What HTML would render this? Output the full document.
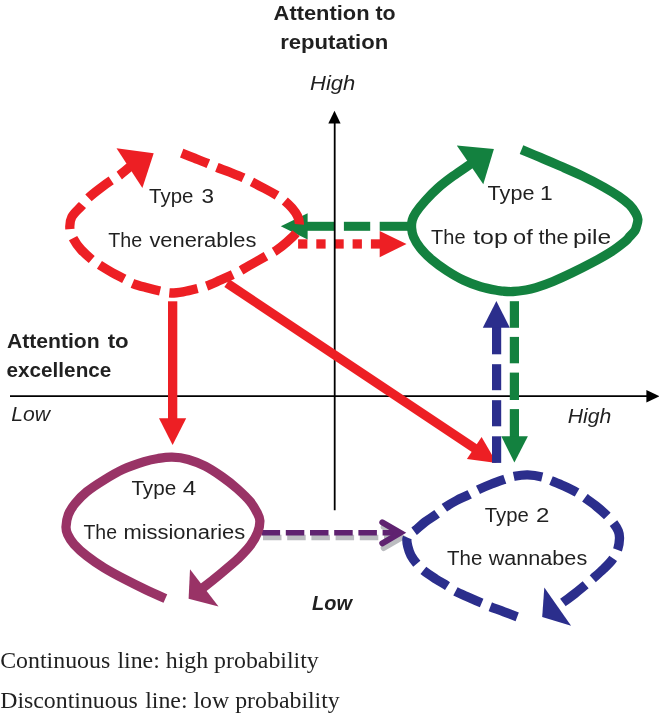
<!DOCTYPE html><html><head><meta charset="utf-8"><title>Diagram</title>
<style>html,body{margin:0;padding:0;background:#fff;}body{width:659px;height:713px;overflow:hidden;font-family:"Liberation Sans",sans-serif;}svg{display:block;}</style></head><body>
<svg width="659" height="713" viewBox="0 0 659 713">
<rect width="659" height="713" fill="#fff"/>
<g stroke="#000" stroke-width="1.9" fill="#000">
<line x1="10" y1="396.1" x2="648" y2="396.1"/>
<polygon stroke="none" points="646.4,390 659.5,396.2 646.4,402.6"/>
</g>
<g transform="translate(1.4,4.7)" stroke="#bbbcc0" fill="none"><line x1="261.6" y1="532.8" x2="401" y2="532.8" stroke-width="5.6" stroke-dasharray="18.5 5.7"/><polyline points="382.3,522.3 400.3,532.8 382.3,543.3" stroke-width="6" stroke-linecap="round" stroke-linejoin="miter" stroke-miterlimit="10"/></g>
<g transform="translate(0,0)" stroke="#5f2270" fill="none"><line x1="261.6" y1="532.8" x2="401" y2="532.8" stroke-width="5.6" stroke-dasharray="18.5 5.7"/><polyline points="382.3,522.3 400.3,532.8 382.3,543.3" stroke-width="6" stroke-linecap="round" stroke-linejoin="miter" stroke-miterlimit="10"/></g>
<g fill="#13813f">
<rect x="379.7" y="221.8" width="29.3" height="9"/>
<rect x="343.9" y="221.8" width="26.3" height="9"/>
<rect x="306.0" y="221.8" width="28.4" height="9"/>
<polygon points="280.8,226.3 307.6,213.2 307.6,239.4"/>
</g>
<g fill="#ed1f24">
<rect x="298.1" y="239.3" width="9.3" height="9.3"/>
<rect x="316.3" y="239.3" width="9.3" height="9.3"/>
<rect x="334.4" y="239.3" width="9.3" height="9.3"/>
<rect x="352.6" y="239.3" width="9.3" height="9.3"/>
<rect x="370.9" y="239.3" width="10" height="9.3"/>
<polygon points="406.5,244 379.7,230.9 379.7,257.2"/>
</g>
<g stroke="#000" stroke-width="1.8" fill="#000"><line x1="334.7" y1="122" x2="334.7" y2="510.3"/><polygon stroke="none" points="328.3,123.4 334.5,110.8 340.6,123.4"/></g>
<g fill="#ed1f24"><rect x="168" y="301.3" width="9.3" height="118"/><polygon points="159,418.3 186.2,418.3 172.6,445.1"/></g>
<g fill="#ed1f24" stroke="#ed1f24"><line x1="226.9" y1="283.1" x2="475.1" y2="448.6" stroke-width="9.2"/>
<polygon stroke="none" points="496.7,463.0 466.9,459.1 481.6,437.0"/></g>
<g fill="#2b2e8c">
<rect x="492" y="436.3" width="9.2" height="26.6"/>
<rect x="492" y="400.2" width="9.2" height="26.1"/>
<rect x="492" y="364.2" width="9.2" height="26.0"/>
<rect x="492" y="326.5" width="9.2" height="27.8"/>
<polygon points="496.4,301 482.8,327.7 509.8,327.7"/></g>
<g fill="#13813f">
<rect x="509.8" y="301.2" width="9.2" height="26.6"/>
<rect x="509.8" y="336.9" width="9.2" height="26.4"/>
<rect x="509.8" y="372.6" width="9.2" height="27.4"/>
<rect x="509.8" y="409.1" width="9.2" height="28.4"/>
<polygon points="514.4,462.6 501.3,436.3 527.9,436.3"/></g>
<path d="M521.5,149.6 C524.6,150.9 533.5,154.6 540.2,157.4 C546.9,160.2 554.4,163.5 561.5,166.6 C568.6,169.7 575.6,172.7 582.7,176.1 C589.8,179.5 598.0,183.8 604.0,187.2 C610.0,190.6 614.6,193.4 618.9,196.3 C623.1,199.2 626.7,202.0 629.5,204.8 C632.3,207.6 634.4,210.9 635.8,213.3 C637.2,215.8 637.8,217.2 637.9,219.5 C638.0,221.8 636.8,225.2 636.3,227.1 C635.8,229.0 635.9,229.2 634.8,230.8 C633.7,232.4 631.1,234.9 629.5,236.7 C627.9,238.5 628.4,238.8 625.2,241.4 C622.0,244.0 616.1,248.7 610.4,252.3 C604.7,255.9 597.6,259.8 591.2,263.2 C584.8,266.6 578.5,269.8 572.1,272.8 C565.7,275.9 559.0,279.0 553.0,281.5 C547.0,284.0 540.5,286.2 536.0,287.6 C531.5,289.0 529.8,289.4 526.0,290.0 C522.2,290.6 516.9,291.3 513.1,291.5 C509.3,291.7 505.9,291.4 503.3,291.2 C500.7,291.0 501.5,291.2 497.7,290.5 C493.9,289.8 486.4,288.5 480.7,286.8 C475.0,285.1 469.4,283.0 463.7,280.3 C458.0,277.6 452.0,274.0 446.7,270.6 C441.4,267.2 436.3,263.6 431.9,259.8 C427.5,256.0 423.2,251.6 420.2,247.8 C417.1,244.0 415.0,240.3 413.6,237.0 C412.2,233.7 411.8,230.8 411.6,228.0 C411.4,225.2 411.6,222.6 412.3,220.0 C413.0,217.4 413.7,215.8 415.9,212.5 C418.1,209.2 421.8,204.6 425.5,200.5 C429.2,196.4 433.6,191.9 438.2,187.8 C442.8,183.7 447.9,179.9 453.1,176.1 C458.3,172.3 466.5,166.9 469.5,164.8 C472.5,162.7 470.9,163.9 471.1,163.7" fill="none" stroke="#13813f" stroke-width="9.3"/>
<polygon points="456.8,145.6 493.9,148.9 483.3,184.2" fill="#13813f"/>
<path d="M181.7,153.2 C183.8,154.0 190.2,156.5 194.5,158.2 C198.8,159.9 204.0,161.9 207.6,163.4 C211.2,164.9 212.6,165.7 216.3,167.2 C220.0,168.7 225.5,170.5 230.0,172.3 C234.5,174.1 239.8,176.2 243.3,177.8 C246.8,179.4 247.7,179.8 251.2,181.6 C254.7,183.4 260.1,186.2 264.5,188.5 C268.9,190.8 274.0,193.7 277.3,195.7 C280.6,197.7 281.9,198.4 284.3,200.5 C286.8,202.6 289.8,205.4 292.0,208.0 C294.2,210.6 296.3,213.3 297.5,216.0 C298.7,218.7 299.5,221.2 299.3,224.0 C299.1,226.8 298.6,229.5 296.5,232.5 C294.4,235.5 290.4,239.0 287.0,242.0 C283.6,245.0 279.5,248.2 276.1,250.5 C272.7,252.8 270.4,253.6 266.5,255.8 C262.6,258.0 257.4,261.0 253.0,263.5 C248.6,266.0 243.5,269.1 240.1,271.0 C236.7,272.9 235.8,273.1 232.4,274.7 C229.1,276.2 224.3,278.4 220.0,280.3 C215.7,282.2 210.6,284.6 206.7,286.0 C202.8,287.4 200.3,287.8 196.4,288.8 C192.5,289.8 187.2,291.1 183.0,291.8 C178.8,292.5 174.8,293.1 171.0,293.0 C167.2,292.9 164.2,292.0 160.2,291.1 C156.2,290.2 151.4,289.0 147.0,287.8 C142.6,286.6 137.3,285.3 133.5,283.8 C129.7,282.3 128.0,280.9 124.4,279.0 C120.8,277.1 116.2,274.9 112.0,272.5 C107.8,270.1 102.8,267.1 99.4,264.9 C96.0,262.7 94.5,261.8 91.4,259.2 C88.3,256.6 84.0,252.8 81.0,249.5 C78.0,246.2 75.5,242.6 73.7,239.2 C71.9,235.8 70.2,232.8 69.9,229.1 C69.6,225.4 69.8,220.9 71.8,217.0 C73.8,213.1 78.7,209.2 81.6,205.9 C84.5,202.6 85.9,200.3 89.0,197.4 C92.1,194.5 96.3,191.3 100.0,188.5 C103.7,185.7 108.0,182.6 111.3,180.4 C114.6,178.2 116.8,177.2 119.8,175.1 C122.8,172.9 127.2,169.0 129.0,167.5 C130.8,166.0 130.3,166.4 130.5,166.2" fill="none" stroke="#ed1f24" stroke-width="9.3" stroke-dasharray="28.5 9.5"/>
<polygon points="116.5,148.3 153.7,153.2 142.4,187.9" fill="#ed1f24"/>
<path d="M165.4,598.5 C162.2,597.1 153.1,593.2 146.4,590.0 C139.7,586.8 132.2,583.1 125.1,579.4 C118.0,575.7 110.3,571.6 103.9,567.7 C97.5,563.8 91.9,559.9 86.9,556.0 C81.9,552.1 77.3,547.9 74.1,544.3 C70.9,540.7 69.0,537.4 67.7,534.5 C66.4,531.6 65.9,530.1 66.0,526.8 C66.1,523.5 66.9,518.4 68.4,514.5 C69.9,510.6 72.1,507.2 75.2,503.4 C78.3,499.6 82.1,495.6 86.9,491.7 C91.7,487.8 97.9,483.8 103.9,480.1 C109.9,476.4 116.3,472.5 123.0,469.4 C129.7,466.3 138.4,463.4 144.2,461.6 C150.0,459.8 153.4,459.2 158.0,458.5 C162.6,457.8 167.0,457.1 172.0,457.2 C177.0,457.3 182.7,457.9 188.2,459.4 C193.7,460.9 199.5,463.3 205.2,466.2 C210.9,469.1 216.9,473.2 222.2,476.9 C227.5,480.6 232.5,484.5 237.1,488.6 C241.7,492.7 246.5,497.2 249.9,501.3 C253.3,505.4 255.6,509.7 257.3,513.0 C259.0,516.3 259.8,517.8 259.9,521.0 C259.9,524.2 259.2,528.5 257.6,532.5 C256.1,536.5 253.6,540.9 250.6,545.0 C247.6,549.1 243.6,553.2 239.6,557.2 C235.6,561.2 230.8,565.0 226.5,568.7 C222.2,572.4 217.4,576.4 213.7,579.4 C209.9,582.4 205.9,585.5 204.0,587.0 C202.1,588.5 202.7,588.0 202.4,588.2" fill="none" stroke="#993366" stroke-width="9.3"/>
<polygon points="190.0,569.2 218.5,606.5 188.6,598.8" fill="#993366"/>
<path d="M517.2,616.8 C515.0,616.0 508.4,613.5 504.0,611.8 C499.6,610.1 494.2,608.2 490.6,606.8 C487.0,605.4 485.7,604.8 482.1,603.2 C478.5,601.7 473.4,599.5 469.0,597.5 C464.6,595.5 459.1,593.2 455.5,591.3 C451.9,589.4 451.0,588.3 447.7,586.2 C444.4,584.1 439.5,581.4 435.5,578.8 C431.5,576.2 426.7,573.1 423.7,570.7 C420.7,568.3 419.4,566.8 417.3,564.3 C415.2,561.8 412.6,558.5 411.0,555.5 C409.4,552.5 408.5,549.3 407.8,546.5 C407.1,543.7 406.6,540.5 407.0,538.5 C407.4,536.5 408.6,535.6 410.0,534.2 C411.4,532.9 412.7,532.4 415.2,530.4 C417.7,528.4 421.5,524.7 425.0,522.0 C428.5,519.3 433.1,516.7 436.4,514.3 C439.7,511.9 441.5,509.7 444.9,507.4 C448.2,505.1 452.5,502.6 456.5,500.5 C460.5,498.4 465.2,496.6 468.9,494.7 C472.6,492.8 475.1,491.2 478.9,489.4 C482.7,487.6 487.4,485.6 491.5,484.0 C495.6,482.4 500.0,480.9 503.8,479.6 C507.6,478.3 510.4,477.1 514.4,476.3 C518.4,475.5 523.0,474.7 527.6,474.8 C532.2,474.9 538.2,475.9 542.1,476.9 C546.0,477.8 547.4,479.0 551.0,480.5 C554.6,482.0 559.8,484.1 564.0,486.0 C568.2,487.9 573.0,490.2 576.5,492.2 C580.0,494.2 581.8,495.6 585.0,497.9 C588.2,500.2 592.5,503.2 596.0,506.0 C599.5,508.8 603.2,512.0 606.2,514.9 C609.2,517.8 611.7,520.7 613.7,523.4 C615.7,526.1 617.3,528.5 618.3,531.0 C619.3,533.5 619.6,535.6 619.5,538.5 C619.4,541.4 619.0,545.1 617.9,548.6 C616.8,552.1 615.0,555.8 612.6,559.2 C610.2,562.6 606.7,565.9 603.5,569.0 C600.3,572.1 596.4,575.5 593.5,578.1 C590.6,580.7 589.1,581.9 586.0,584.5 C582.9,587.1 578.7,590.6 575.0,593.5 C571.3,596.4 566.6,599.7 563.7,601.9 C560.8,604.1 558.9,605.8 557.7,606.8 C556.5,607.8 556.7,607.6 556.5,607.7" fill="none" stroke="#2b2e8c" stroke-width="9.3" stroke-dasharray="28.65 9.55"/>
<polygon points="544.3,587.6 571.1,625.7 542.2,617.0" fill="#2b2e8c"/>
<g style="filter:grayscale(1)">
<text x="149.1" y="203.4" textLength="44.3" lengthAdjust="spacingAndGlyphs" font-family="Liberation Sans" font-size="20" font-weight="normal" font-style="normal" fill="#231f20">Type</text><text x="201.5" y="203.4" textLength="12.5" lengthAdjust="spacingAndGlyphs" font-family="Liberation Sans" font-size="20" font-weight="normal" font-style="normal" fill="#231f20">3</text>
<text x="108.3" y="247.2" textLength="33.9" lengthAdjust="spacingAndGlyphs" font-family="Liberation Sans" font-size="20" font-weight="normal" font-style="normal" fill="#231f20">The</text><text x="149.4" y="247.2" textLength="107.0" lengthAdjust="spacingAndGlyphs" font-family="Liberation Sans" font-size="20" font-weight="normal" font-style="normal" fill="#231f20">venerables</text>
<text x="487.6" y="199.7" textLength="46.8" lengthAdjust="spacingAndGlyphs" font-family="Liberation Sans" font-size="20" font-weight="normal" font-style="normal" fill="#231f20">Type</text><text x="540.1" y="199.7" textLength="12.7" lengthAdjust="spacingAndGlyphs" font-family="Liberation Sans" font-size="20" font-weight="normal" font-style="normal" fill="#231f20">1</text>
<text x="431.1" y="244.4" textLength="34.4" lengthAdjust="spacingAndGlyphs" font-family="Liberation Sans" font-size="20" font-weight="normal" font-style="normal" fill="#231f20">The</text><text x="473.2" y="244.4" textLength="34.7" lengthAdjust="spacingAndGlyphs" font-family="Liberation Sans" font-size="20" font-weight="normal" font-style="normal" fill="#231f20">top</text><text x="513.0" y="244.4" textLength="19.7" lengthAdjust="spacingAndGlyphs" font-family="Liberation Sans" font-size="20" font-weight="normal" font-style="normal" fill="#231f20">of</text><text x="538.5" y="244.4" textLength="30.1" lengthAdjust="spacingAndGlyphs" font-family="Liberation Sans" font-size="20" font-weight="normal" font-style="normal" fill="#231f20">the</text><text x="573.0" y="244.4" textLength="38.2" lengthAdjust="spacingAndGlyphs" font-family="Liberation Sans" font-size="20" font-weight="normal" font-style="normal" fill="#231f20">pile</text>
<text x="131.4" y="495.4" textLength="44.8" lengthAdjust="spacingAndGlyphs" font-family="Liberation Sans" font-size="20" font-weight="normal" font-style="normal" fill="#231f20">Type</text><text x="182.7" y="495.4" textLength="13.5" lengthAdjust="spacingAndGlyphs" font-family="Liberation Sans" font-size="20" font-weight="normal" font-style="normal" fill="#231f20">4</text>
<text x="83.5" y="539.2" textLength="33.5" lengthAdjust="spacingAndGlyphs" font-family="Liberation Sans" font-size="20" font-weight="normal" font-style="normal" fill="#231f20">The</text><text x="123.4" y="539.2" textLength="121.9" lengthAdjust="spacingAndGlyphs" font-family="Liberation Sans" font-size="20" font-weight="normal" font-style="normal" fill="#231f20">missionaries</text>
<text x="484.8" y="521.5" textLength="44.0" lengthAdjust="spacingAndGlyphs" font-family="Liberation Sans" font-size="20" font-weight="normal" font-style="normal" fill="#231f20">Type</text><text x="536.1" y="521.5" textLength="13.4" lengthAdjust="spacingAndGlyphs" font-family="Liberation Sans" font-size="20" font-weight="normal" font-style="normal" fill="#231f20">2</text>
<text x="447.1" y="565.2" textLength="35.3" lengthAdjust="spacingAndGlyphs" font-family="Liberation Sans" font-size="20" font-weight="normal" font-style="normal" fill="#231f20">The</text><text x="488.7" y="565.2" textLength="98.5" lengthAdjust="spacingAndGlyphs" font-family="Liberation Sans" font-size="20" font-weight="normal" font-style="normal" fill="#231f20">wannabes</text>
<text x="273.6" y="19.7" textLength="95.9" lengthAdjust="spacingAndGlyphs" font-family="Liberation Sans" font-size="21" font-weight="bold" font-style="normal" fill="#231f20">Attention</text><text x="375.4" y="19.7" textLength="20.2" lengthAdjust="spacingAndGlyphs" font-family="Liberation Sans" font-size="21" font-weight="bold" font-style="normal" fill="#231f20">to</text>
<text x="280.2" y="48.5" textLength="108.1" lengthAdjust="spacingAndGlyphs" font-family="Liberation Sans" font-size="21" font-weight="bold" font-style="normal" fill="#231f20">reputation</text>
<text x="6.9" y="348.4" textLength="92.8" lengthAdjust="spacingAndGlyphs" font-family="Liberation Sans" font-size="21" font-weight="bold" font-style="normal" fill="#231f20">Attention</text><text x="107.7" y="348.4" textLength="21.0" lengthAdjust="spacingAndGlyphs" font-family="Liberation Sans" font-size="21" font-weight="bold" font-style="normal" fill="#231f20">to</text>
<text x="6.6" y="377.4" textLength="104.7" lengthAdjust="spacingAndGlyphs" font-family="Liberation Sans" font-size="21" font-weight="bold" font-style="normal" fill="#231f20">excellence</text>
<text x="310.0" y="89.9" textLength="45.3" lengthAdjust="spacingAndGlyphs" font-family="Liberation Sans" font-size="20.5" font-weight="normal" font-style="italic" fill="#231f20">High</text>
<text x="567.7" y="422.5" textLength="43.6" lengthAdjust="spacingAndGlyphs" font-family="Liberation Sans" font-size="20.5" font-weight="normal" font-style="italic" fill="#231f20">High</text>
<text x="11.2" y="421.1" textLength="38.8" lengthAdjust="spacingAndGlyphs" font-family="Liberation Sans" font-size="20.5" font-weight="normal" font-style="italic" fill="#231f20">Low</text>
<text x="312.1" y="609.7" textLength="39.9" lengthAdjust="spacingAndGlyphs" font-family="Liberation Sans" font-size="20.8" font-weight="bold" font-style="italic" fill="#231f20">Low</text>
<text x="0.2" y="668.2" textLength="110.0" lengthAdjust="spacingAndGlyphs" font-family="Liberation Serif" font-size="23.8" font-weight="normal" font-style="normal" fill="#231f20">Continuous</text>
<text x="117.4" y="668.2" textLength="201.4" lengthAdjust="spacingAndGlyphs" font-family="Liberation Serif" font-size="23.8" font-weight="normal" font-style="normal" fill="#231f20">line: high probability</text>
<text x="0.2" y="708.3" textLength="137.7" lengthAdjust="spacingAndGlyphs" font-family="Liberation Serif" font-size="23.8" font-weight="normal" font-style="normal" fill="#231f20">Discontinuous</text>
<text x="145.2" y="708.3" textLength="194.6" lengthAdjust="spacingAndGlyphs" font-family="Liberation Serif" font-size="23.8" font-weight="normal" font-style="normal" fill="#231f20">line: low probability</text>
</g>
</svg></body></html>
